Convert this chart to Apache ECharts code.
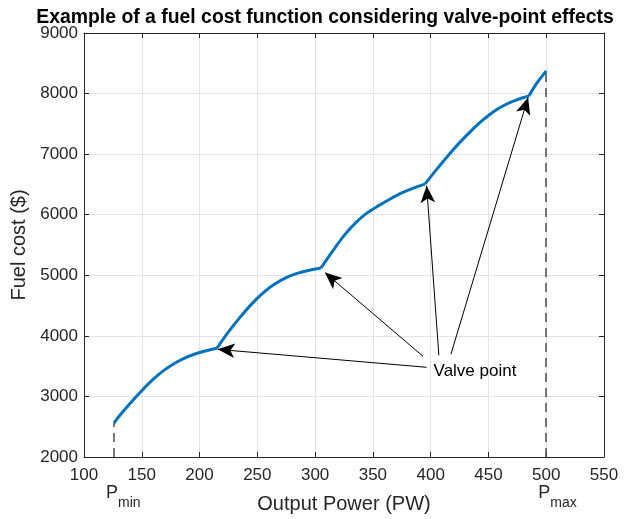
<!DOCTYPE html>
<html>
<head>
<meta charset="utf-8">
<script src="https://cdn.jsdelivr.net/npm/echarts@6/dist/echarts.min.js"></script>
<style>
  html, body { margin: 0; padding: 0; background: #fff; }
  #chart { width: 627px; height: 519px; }
</style>
</head>
<body>
<div id="chart"></div>
<script>
// Fuel cost curve, one piece per valve-point interval: [output power, cost]
const segment1 = [[126, 2560], [130, 2664], [140, 2888], [150, 3095], [160, 3285], [170, 3442], [180, 3565], [190, 3658], [200, 3726], [210, 3776], [215, 3795]];
const segment2 = [[215, 3795], [225, 4065], [235, 4305], [245, 4524], [255, 4710], [265, 4856], [275, 4962], [285, 5036], [295, 5083], [305, 5120]];
const segment3 = [[305, 5120], [315, 5395], [325, 5655], [335, 5865], [345, 6030], [355, 6150], [365, 6260], [375, 6360], [385, 6440], [395, 6505]];
const segment4 = [[395, 6505], [405, 6745], [415, 6975], [425, 7190], [435, 7385], [445, 7560], [455, 7710], [465, 7820], [475, 7900], [485, 7960]];
const segment5 = [[485, 7960], [492, 8175], [500, 8375]];

const pMin = 126;
const pMax = 500;
const costAtPMin = 2560;
const costAtPMax = 8375;

// Arrows from the "Valve point" note to each valve point: [start, tip]
const arrowStarts = [[396.5, 3481], [393.4, 3662], [407.1, 3679], [417.5, 3695]];
const arrowTips = [[215.7, 3777], [308.5, 5045], [396.5, 6477], [484.3, 7936]];
const noteAnchor = [402.5, 3415];
const noteText = 'Valve point';

const xTicks = { min: 100, max: 550, step: 50 };
const yTicks = { min: 2000, max: 9000, step: 1000 };

const FONT = '"Liberation Sans", Arial, Helvetica, sans-serif';
const AXIS_DARK = '#262626';
const GRID_LIGHT = '#e3e3e3';
const LINE_BLUE = '#0072BD';

const chart = echarts.init(document.getElementById('chart'), null, { renderer: 'canvas' });

function curveSeries(data) {
  return {
    type: 'line',
    data: data,
    smooth: 0.3,
    showSymbol: false,
    symbol: 'none',
    lineStyle: { color: LINE_BLUE, width: 3 },
    z: 5,
    animation: false
  };
}

const plainNumber = (v) => String(v);

const baseX = {
  type: 'value', min: xTicks.min, max: xTicks.max, interval: xTicks.step
};
const baseY = {
  type: 'value', min: yTicks.min, max: yTicks.max, interval: yTicks.step
};

const option = {
  animation: false,
  title: {
    text: 'Example of a fuel cost function considering valve-point effects',
    left: 320, top: 3, textAlign: 'center',
    textStyle: { fontFamily: FONT, fontWeight: 'bold', fontSize: 19.4, color: '#000' }
  },
  grid: { left: 84, right: 23, top: 33, bottom: 60, containLabel: false },
  xAxis: [
    Object.assign({}, baseX, {
      position: 'bottom',
      name: 'Output Power (PW)', nameLocation: 'middle', nameGap: 37,
      nameTextStyle: { fontFamily: FONT, fontSize: 20, color: AXIS_DARK },
      axisLine: { show: true, onZero: false, lineStyle: { color: AXIS_DARK, width: 1 } },
      axisTick: { show: true, inside: true, length: 5, lineStyle: { color: AXIS_DARK } },
      axisLabel: { show: true, margin: 10, fontFamily: FONT, fontSize: 17, color: AXIS_DARK, formatter: plainNumber },
      splitLine: { show: true, lineStyle: { color: GRID_LIGHT, width: 1 } }
    }),
    Object.assign({}, baseX, {
      position: 'top',
      axisLine: { show: true, onZero: false, lineStyle: { color: AXIS_DARK, width: 1 } },
      axisTick: { show: true, inside: true, length: 5, lineStyle: { color: AXIS_DARK } },
      axisLabel: { show: false },
      splitLine: { show: false }
    })
  ],
  yAxis: [
    Object.assign({}, baseY, {
      position: 'left',
      name: 'Fuel cost ($)', nameLocation: 'middle', nameGap: 54,
      nameTextStyle: { fontFamily: FONT, fontSize: 20, color: AXIS_DARK },
      axisLine: { show: true, onZero: false, lineStyle: { color: AXIS_DARK, width: 1 } },
      axisTick: { show: true, inside: true, length: 5, lineStyle: { color: AXIS_DARK } },
      axisLabel: { show: true, margin: 6, fontFamily: FONT, fontSize: 17, color: AXIS_DARK, formatter: plainNumber },
      splitLine: { show: true, lineStyle: { color: GRID_LIGHT, width: 1 } }
    }),
    Object.assign({}, baseY, {
      position: 'right',
      axisLine: { show: true, onZero: false, lineStyle: { color: AXIS_DARK, width: 1 } },
      axisTick: { show: true, inside: true, length: 5, lineStyle: { color: AXIS_DARK } },
      axisLabel: { show: false },
      splitLine: { show: false }
    })
  ],
  series: [
    // dashed limits at the minimum and maximum output
    {
      type: 'line', data: [], silent: true, animation: false,
      markLine: {
        silent: true, symbol: ['none', 'none'], animation: false,
        label: { show: false },
        lineStyle: { type: [9, 6], color: '#4d4d4d', width: 1.5 },
        data: [
          [{ coord: [pMin, yTicks.min] }, { coord: [pMin, costAtPMin] }],
          [{ coord: [pMax, yTicks.min] }, { coord: [pMax, costAtPMax] }]
        ]
      }
    },
    curveSeries(segment1),
    curveSeries(segment2),
    curveSeries(segment3),
    curveSeries(segment4),
    curveSeries(segment5),
    // note arrows
    {
      type: 'line', data: [], silent: true, animation: false,
      markLine: {
        silent: true, animation: false,
        symbol: ['none', 'arrow'], symbolSize: [11, 17],
        label: { show: false },
        lineStyle: { type: 'solid', color: '#000', width: 1 },
        itemStyle: { color: '#000' },
        emphasis: { disabled: true },
        data: arrowStarts.map((s, i) => [{ coord: s }, { coord: arrowTips[i] }])
      },
      markPoint: {
        silent: true, animation: false,
        symbol: 'circle', symbolSize: 0,
        label: {
          show: true, position: 'right', distance: 0,
          formatter: noteText,
          fontFamily: FONT, fontSize: 17, color: '#000'
        },
        data: [{ coord: noteAnchor }]
      }
    }
  ]
};

chart.setOption(option);

// P_min / P_max labels under the axis, placed at their data positions
function limitLabel(p, sub) {
  const px = chart.convertToPixel({ xAxisIndex: 0 }, p);
  return {
    type: 'text',
    x: px - 8, y: 484,
    style: {
      text: '{p|P}{s|' + sub + '}',
      rich: {
        p: { fontFamily: FONT, fontSize: 18, fill: AXIS_DARK, verticalAlign: 'top' },
        s: { fontFamily: FONT, fontSize: 14, fill: AXIS_DARK, padding: [12, 0, 0, 0] }
      }
    }
  };
}
chart.setOption({ graphic: [limitLabel(pMin, 'min'), limitLabel(pMax, 'max')] });
</script>
</body>
</html>
